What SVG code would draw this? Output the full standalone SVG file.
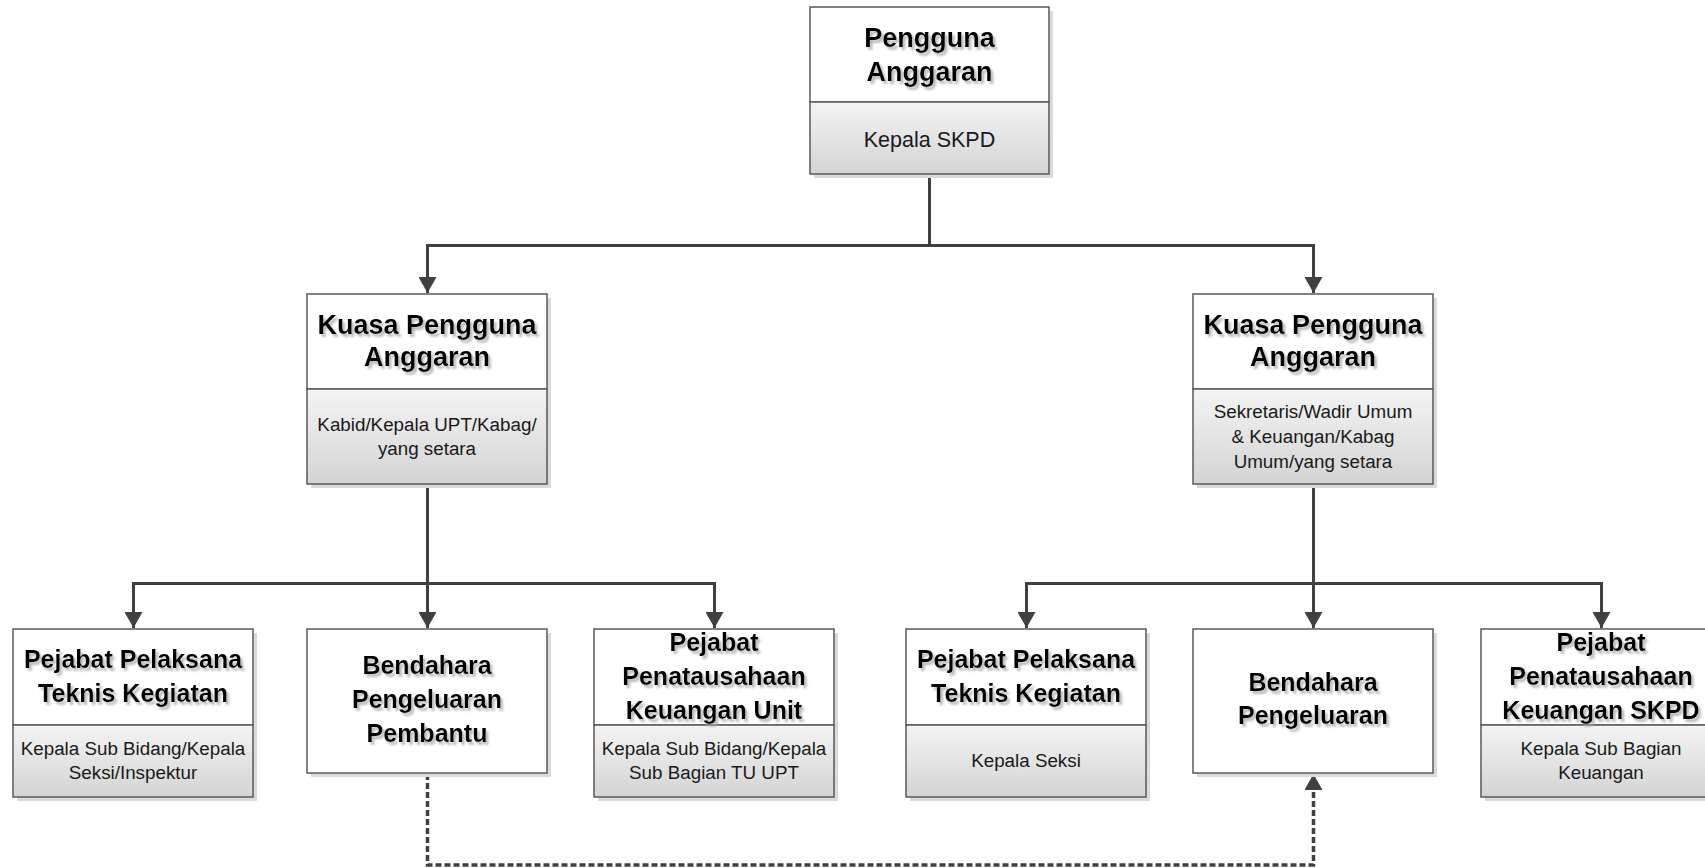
<svg xmlns="http://www.w3.org/2000/svg" width="1705" height="868" viewBox="0 0 1705 868">
<defs>
<linearGradient id="g" x1="0" y1="0" x2="0" y2="1">
<stop offset="0" stop-color="#f4f4f4"/>
<stop offset="1" stop-color="#d4d4d4"/>
</linearGradient>
<filter id="ts" x="-10%" y="-30%" width="125%" height="180%">
<feDropShadow dx="2.5" dy="3" stdDeviation="1" flood-color="#a8a8a8" flood-opacity="0.8"/>
</filter>
<marker id="arr" viewBox="0 0 16 18" refX="16" refY="9" markerWidth="16" markerHeight="18" orient="auto" markerUnits="userSpaceOnUse">
<path d="M0,0 L16,9 L0,18 z" fill="#404040" stroke="none"/>
</marker>
<style>
.box{fill:#fff;stroke:#595959;stroke-width:1.5}
.sub{fill:url(#g);stroke:#595959;stroke-width:1.5}
.sh{fill:#dadada}
.t1{font-family:"Liberation Sans",Arial,sans-serif;font-weight:bold;font-size:27px;fill:#000;text-anchor:middle;filter:url(#ts)}
.t2{font-family:"Liberation Sans",Arial,sans-serif;font-weight:bold;font-size:25px;fill:#000;text-anchor:middle;filter:url(#ts)}
.s1{font-family:"Liberation Sans",Arial,sans-serif;font-size:21.5px;fill:#1a1a1a;text-anchor:middle}
.s2{font-family:"Liberation Sans",Arial,sans-serif;font-size:18.8px;fill:#1a1a1a;text-anchor:middle}
.conn{fill:none;stroke:#404040;stroke-width:3}
.dash{stroke-width:3.5;stroke-dasharray:6 3}
</style>
</defs>
<rect width="1705" height="868" fill="#fff"/>

<g id="connectors">
<path class="conn" d="M929.5,174 V245.5 H427.5 V293" marker-end="url(#arr)"/>
<path class="conn" d="M929.5,245.5 H1313.5 V293" marker-end="url(#arr)"/>
<path class="conn" d="M427.5,484 V628" marker-end="url(#arr)"/>
<path class="conn" d="M427.5,583.5 H133.5 V628" marker-end="url(#arr)"/>
<path class="conn" d="M427.5,583.5 H714.5 V628" marker-end="url(#arr)"/>
<path class="conn" d="M1313.5,484 V628" marker-end="url(#arr)"/>
<path class="conn" d="M1313.5,583.5 H1026.5 V628" marker-end="url(#arr)"/>
<path class="conn" d="M1313.5,583.5 H1601.5 V628" marker-end="url(#arr)"/>
<path class="conn dash" d="M427.5,774 V865 H1313.5 V774" marker-end="url(#arr)"/>
</g>

<g id="pengguna-anggaran">
<rect class="sh" x="814" y="11" width="239" height="167"/>
<rect class="box" x="810" y="7" width="239" height="95"/>
<rect class="sub" x="810" y="102" width="239" height="72"/>
<text class="t1" x="929.5" y="47">Pengguna</text>
<text class="t1" x="929.5" y="81">Anggaran</text>
<text class="s1" x="929.5" y="147">Kepala SKPD</text>
</g>

<g id="kpa-kiri">
<rect class="sh" x="311" y="298" width="240" height="190"/>
<rect class="box" x="307" y="294" width="240" height="95"/>
<rect class="sub" x="307" y="389" width="240" height="95"/>
<text class="t1" x="427" y="334">Kuasa Pengguna</text>
<text class="t1" x="427" y="366">Anggaran</text>
<text class="s2" x="427" y="431">Kabid/Kepala UPT/Kabag/</text>
<text class="s2" x="427" y="455">yang setara</text>
</g>

<g id="kpa-kanan">
<rect class="sh" x="1197" y="298" width="240" height="190"/>
<rect class="box" x="1193" y="294" width="240" height="95"/>
<rect class="sub" x="1193" y="389" width="240" height="95"/>
<text class="t1" x="1313" y="334">Kuasa Pengguna</text>
<text class="t1" x="1313" y="366">Anggaran</text>
<text class="s2" x="1313" y="418">Sekretaris/Wadir Umum</text>
<text class="s2" x="1313" y="443">&amp; Keuangan/Kabag</text>
<text class="s2" x="1313" y="468">Umum/yang setara</text>
</g>

<g id="pptk-kiri">
<rect class="sh" x="17" y="633" width="240" height="168"/>
<rect class="box" x="13" y="629" width="240" height="96"/>
<rect class="sub" x="13" y="725" width="240" height="72"/>
<text class="t2" x="133" y="668">Pejabat Pelaksana</text>
<text class="t2" x="133" y="702">Teknis Kegiatan</text>
<text class="s2" x="133" y="755">Kepala Sub Bidang/Kepala</text>
<text class="s2" x="133" y="779">Seksi/Inspektur</text>
</g>

<g id="bendahara-pembantu">
<rect class="sh" x="311" y="633" width="240" height="144"/>
<rect class="box" x="307" y="629" width="240" height="144"/>
<text class="t2" x="427" y="674">Bendahara</text>
<text class="t2" x="427" y="708">Pengeluaran</text>
<text class="t2" x="427" y="742">Pembantu</text>
</g>

<g id="ppk-unit">
<rect class="sh" x="598" y="633" width="240" height="168"/>
<rect class="box" x="594" y="629" width="240" height="96"/>
<rect class="sub" x="594" y="725" width="240" height="72"/>
<text class="t2" x="714" y="651">Pejabat</text>
<text class="t2" x="714" y="685">Penatausahaan</text>
<text class="t2" x="714" y="719">Keuangan Unit</text>
<text class="s2" x="714" y="755">Kepala Sub Bidang/Kepala</text>
<text class="s2" x="714" y="779">Sub Bagian TU UPT</text>
</g>

<g id="pptk-kanan">
<rect class="sh" x="910" y="633" width="240" height="168"/>
<rect class="box" x="906" y="629" width="240" height="96"/>
<rect class="sub" x="906" y="725" width="240" height="72"/>
<text class="t2" x="1026" y="668">Pejabat Pelaksana</text>
<text class="t2" x="1026" y="702">Teknis Kegiatan</text>
<text class="s2" x="1026" y="767">Kepala Seksi</text>
</g>

<g id="bendahara-pengeluaran">
<rect class="sh" x="1197" y="633" width="240" height="144"/>
<rect class="box" x="1193" y="629" width="240" height="144"/>
<text class="t2" x="1313" y="691">Bendahara</text>
<text class="t2" x="1313" y="724">Pengeluaran</text>
</g>

<g id="ppk-skpd">
<rect class="sh" x="1485" y="633" width="240" height="168"/>
<rect class="box" x="1481" y="629" width="240" height="96"/>
<rect class="sub" x="1481" y="725" width="240" height="72"/>
<text class="t2" x="1601" y="651">Pejabat</text>
<text class="t2" x="1601" y="685">Penatausahaan</text>
<text class="t2" x="1601" y="719">Keuangan SKPD</text>
<text class="s2" x="1601" y="755">Kepala Sub Bagian</text>
<text class="s2" x="1601" y="779">Keuangan</text>
</g>
</svg>
